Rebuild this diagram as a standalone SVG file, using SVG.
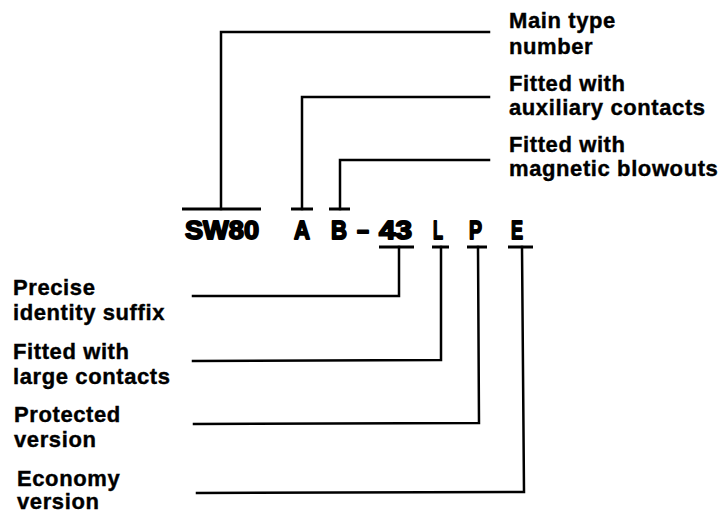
<svg xmlns="http://www.w3.org/2000/svg" width="723" height="515" viewBox="0 0 723 515">
<style>
.lbl{font-family:"Liberation Sans",Arial,sans-serif;font-weight:bold;font-size:22px;letter-spacing:0.6px;fill:#000;stroke:#000;stroke-width:0.4px}
.code{font-family:"Liberation Sans",Arial,sans-serif;font-weight:bold;font-size:26px;fill:#000;stroke:#000;stroke-width:1.8px;stroke-linejoin:round}
.ln{fill:none;stroke:#000;stroke-width:2.5;stroke-linecap:square;stroke-linejoin:miter}
.bar{stroke:#000;stroke-width:3}
</style>
<rect width="723" height="515" fill="#fff"/>
<g id="code">
<text class="code" x="185" y="239" textLength="74" lengthAdjust="spacingAndGlyphs">SW80</text>
<text class="code" x="294" y="239" textLength="16" lengthAdjust="spacingAndGlyphs">A</text>
<text class="code" x="331" y="239" textLength="16" lengthAdjust="spacingAndGlyphs">B</text>
<text class="code" x="357" y="239" textLength="12" lengthAdjust="spacingAndGlyphs">–</text>
<text class="code" x="379" y="239" textLength="33" lengthAdjust="spacingAndGlyphs">43</text>
<text class="code" x="433" y="239" textLength="10" lengthAdjust="spacingAndGlyphs">L</text>
<text class="code" x="469" y="239" textLength="13" lengthAdjust="spacingAndGlyphs">P</text>
<text class="code" x="511" y="239" textLength="12" lengthAdjust="spacingAndGlyphs">E</text>
</g>
<g id="main-type"><text class="lbl" x="509" y="28">Main type</text><text class="lbl" x="509" y="54">number</text></g>
<g id="aux-contacts"><text class="lbl" x="509" y="91">Fitted with</text><text class="lbl" x="509" y="115">auxiliary contacts</text></g>
<g id="blowouts"><text class="lbl" x="509" y="152">Fitted with</text><text class="lbl" x="509" y="176">magnetic blowouts</text></g>
<g id="suffix"><text class="lbl" x="13" y="295">Precise</text><text class="lbl" x="13" y="320">identity suffix</text></g>
<g id="large-contacts"><text class="lbl" x="13" y="359">Fitted with</text><text class="lbl" x="13" y="384">large contacts</text></g>
<g id="protected"><text class="lbl" x="14" y="422">Protected</text><text class="lbl" x="14" y="447">version</text></g>
<g id="economy"><text class="lbl" x="17" y="486">Economy</text><text class="lbl" x="17" y="509">version</text></g>
<g id="connectors">
<line class="bar" x1="182" y1="209" x2="261" y2="209"/>
<polyline class="ln" points="221,209 221,32 489,32"/>
<line class="bar" x1="291" y1="209" x2="313" y2="209"/>
<polyline class="ln" points="302,209 302,97 489,97"/>
<line class="bar" x1="329" y1="209" x2="350" y2="209"/>
<polyline class="ln" points="340,209 340,160 489,160"/>
<line class="bar" x1="379" y1="247" x2="414" y2="247"/>
<polyline class="ln" points="399,247 399,296 193,296"/>
<line class="bar" x1="432" y1="247" x2="449" y2="247"/>
<polyline class="ln" points="441,247 441,360 193,361"/>
<line class="bar" x1="467" y1="247" x2="487" y2="247"/>
<polyline class="ln" points="478,247 479,423 194,424"/>
<line class="bar" x1="508" y1="247" x2="533" y2="247"/>
<polyline class="ln" points="522,247 524,492 197,493"/>
</g>
</svg>
